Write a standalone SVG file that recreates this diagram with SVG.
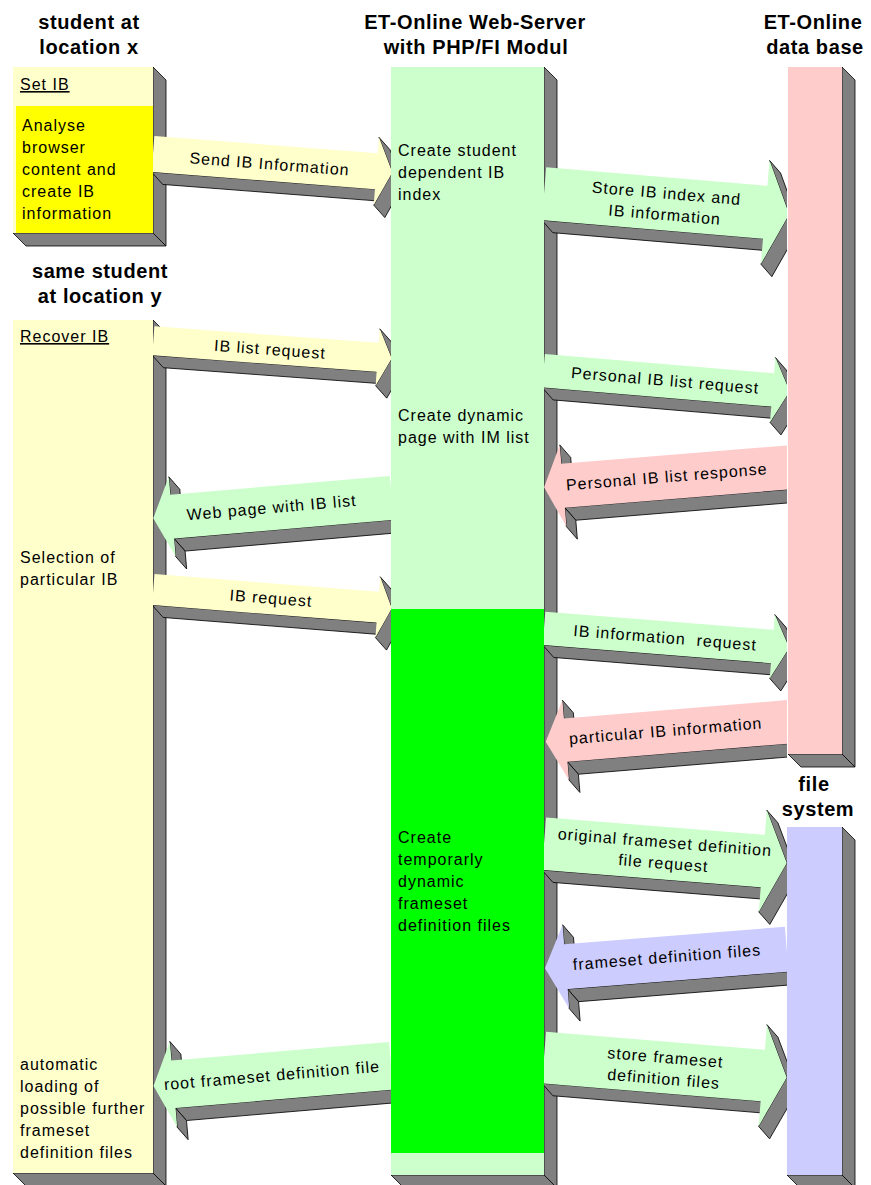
<svg xmlns="http://www.w3.org/2000/svg" width="871" height="1185" viewBox="0 0 871 1185">
<defs>
<style>
.side{fill:#808080;stroke:#000;stroke-width:0.8;stroke-linejoin:round}
.t{font-family:"Liberation Sans",Arial,sans-serif;font-size:16px;letter-spacing:1px;fill:#000}
.m{text-anchor:middle}
.h{font-family:"Liberation Sans",Arial,sans-serif;font-size:20px;font-weight:bold;letter-spacing:0.6px;text-anchor:middle;fill:#000}
.u{text-decoration:underline}
.ly{fill:#ffffcc}.yy{fill:#ffff00}.lg{fill:#ccffcc}.gg{fill:#00ff00}.pk{fill:#ffcccc}.lv{fill:#ccccff}
</style>
<clipPath id="gap">
<rect x="153" y="0" width="238" height="1185"/>
<rect x="544" y="0" width="243" height="1185"/>
</clipPath>
</defs>
<rect width="871" height="1185" fill="#fff"/>

<g id="headers">
<text class="h" x="89" y="29">student at</text>
<text class="h" x="89" y="54">location x</text>
<text class="h" x="475" y="29">ET-Online Web-Server</text>
<text class="h" x="476" y="54">with PHP/FI Modul</text>
<text class="h" x="813" y="29">ET-Online</text>
<text class="h" x="815" y="54">data base</text>
<text class="h" x="100" y="278">same student</text>
<text class="h" x="100" y="303">at location y</text>
<text class="h" x="814" y="791">file</text>
<text class="h" x="818" y="816">system</text>
</g>

<g id="student-x">
<polygon class="side" points="153,67 166,80 166,246 153,233"/>
<polygon class="side" points="13,233 153,233 166,246 26,246"/>
<rect class="ly" x="13" y="67" width="140" height="166"/>
<rect class="yy" x="16" y="106" width="137" height="127"/>
<text class="t u" x="20" y="90">Set IB</text>
<text class="t" x="22" y="131">Analyse</text>
<text class="t" x="22" y="153">browser</text>
<text class="t" x="22" y="175">content and</text>
<text class="t" x="22" y="197">create IB</text>
<text class="t" x="22" y="219">information</text>
</g>

<g id="student-y">
<polygon class="side" points="153,320 166,333 166,1186 153,1173"/>
<polygon class="side" points="13,1173 153,1173 166,1186 26,1186"/>
<rect class="ly" x="13" y="320" width="140" height="853"/>
<text class="t u" x="20" y="342">Recover IB</text>
<text class="t" x="20" y="563">Selection of</text>
<text class="t" x="20" y="585">particular IB</text>
<text class="t" x="20" y="1070">automatic</text>
<text class="t" x="20" y="1092">loading of</text>
<text class="t" x="20" y="1114">possible further</text>
<text class="t" x="20" y="1136">frameset</text>
<text class="t" x="20" y="1158">definition files</text>
</g>

<g id="web-server">
<polygon class="side" points="544,67 557,80 557,1188 544,1175"/>
<polygon class="side" points="391,1175 544,1175 557,1188 404,1188"/>
<rect class="lg" x="391" y="67" width="153" height="1108"/>
<rect class="gg" x="391" y="609" width="153" height="544"/>
<text class="t" x="398" y="156">Create student</text>
<text class="t" x="398" y="178">dependent IB</text>
<text class="t" x="398" y="200">index</text>
<text class="t" x="398" y="421">Create dynamic</text>
<text class="t" x="398" y="443">page with IM list</text>
<text class="t" x="398" y="843">Create</text>
<text class="t" x="398" y="865">temporarly</text>
<text class="t" x="398" y="887">dynamic</text>
<text class="t" x="398" y="909">frameset</text>
<text class="t" x="398" y="931">definition files</text>
</g>

<g id="data-base">
<polygon class="side" points="842,67 855,80 855,767 842,754"/>
<polygon class="side" points="788,754 842,754 855,767 801,767"/>
<rect class="pk" x="788" y="67" width="54" height="687"/>
</g>

<g id="file-system">
<polygon class="side" points="842,827 855,840 855,1188 842,1175"/>
<polygon class="side" points="787,1175 842,1175 855,1188 800,1188"/>
<rect class="lv" x="787" y="827" width="55" height="348"/>
</g>

<g id="connectors" clip-path="url(#gap)">
<g transform="translate(153,154) rotate(4.4)">
<polygon class="side" points="224,18 0,18 12,29.6 236,29.6"/>
<polygon class="side" points="224,-34 240,0 252,11.6 236,-22.4"/>
<polygon class="side" points="240,0 224,34 236,45.6 252,11.6"/>
<polygon class="ly" points="0,-18 224,-18 224,-34 240,0 224,34 224,18 0,18"/>
<text class="t m" x="117" y="6.5">Send IB Information</text>
</g>
<g transform="translate(544,193.7) rotate(4.8)">
<polygon class="side" points="222,26.5 0,26.5 12,38.1 234,38.1"/>
<polygon class="side" points="222,-52 246,0 258,11.6 234,-40.4"/>
<polygon class="side" points="246,0 222,52 234,63.6 258,11.6"/>
<polygon class="lg" points="0,-26.5 222,-26.5 222,-52 246,0 222,52 222,26.5 0,26.5"/>
<text class="t m" x="122" y="-5.2">Store IB index and</text>
<text class="t m" x="122" y="16.3">IB information</text>
</g>
<g transform="translate(153.3,340.8) rotate(4.2)">
<polygon class="side" points="225,14.5 0,14.5 12,26.1 237,26.1"/>
<polygon class="side" points="225,-28.5 239,0 251,11.6 237,-16.9"/>
<polygon class="side" points="239,0 225,28.5 237,40.1 251,11.6"/>
<polygon class="ly" points="0,-14.5 225,-14.5 225,-28.5 239,0 225,28.5 225,14.5 0,14.5"/>
<text class="t m" x="117" y="5.5">IB list request</text>
</g>
<g transform="translate(543.5,370.7) rotate(4.8)">
<polygon class="side" points="230,16.7 0,16.7 12,28.3 242,28.3"/>
<polygon class="side" points="230,-32.5 247,0 259,11.6 242,-20.9"/>
<polygon class="side" points="247,0 230,32.5 242,44.1 259,11.6"/>
<polygon class="lg" points="0,-16.7 230,-16.7 230,-32.5 247,0 230,32.5 230,16.7 0,16.7"/>
<text class="t m" x="122" y="5">Personal IB list request</text>
</g>
<g transform="translate(789.3,467.3) rotate(175.34)">
<polygon class="side" points="0,-22 227,-22 217.1,-35.4 -9.9,-35.4"/>
<polygon class="side" points="227,-22 227,-41 217.1,-54.4 217.1,-35.4"/>
<polygon class="side" points="227,41 227,22 217.1,8.6 217.1,27.6"/>
<polygon class="pk" points="0,-22 227,-22 227,-41 246,0 227,41 227,22 0,22"/>
<text class="t m" transform="translate(123,0) rotate(180)" y="5">Personal IB list response</text>
</g>
<g transform="translate(391.7,497.8) rotate(175.09)">
<polygon class="side" points="0,-22 220.3,-22 210.4,-35.4 -9.9,-35.4"/>
<polygon class="side" points="220.3,-22 220.3,-40 210.4,-53.4 210.4,-35.4"/>
<polygon class="side" points="220.3,40 220.3,22 210.4,8.6 210.4,26.6"/>
<polygon class="lg" points="0,-22 220.3,-22 220.3,-40 239.3,0 220.3,40 220.3,22 0,22"/>
<text class="t m" transform="translate(120.5,0) rotate(180)" y="5">Web page with IB list</text>
</g>
<g transform="translate(153.3,589.5) rotate(4.5)">
<polygon class="side" points="225.2,15.5 0,15.5 12,27.1 237.2,27.1"/>
<polygon class="side" points="225.2,-30.5 239.2,0 251.2,11.6 237.2,-18.9"/>
<polygon class="side" points="239.2,0 225.2,30.5 237.2,42.1 251.2,11.6"/>
<polygon class="ly" points="0,-15.5 225.2,-15.5 225.2,-30.5 239.2,0 225.2,30.5 225.2,15.5 0,15.5"/>
<text class="t m" x="118" y="5">IB request</text>
</g>
<g transform="translate(544,628.3) rotate(4.56)">
<polygon class="side" points="229,16.7 0,16.7 12,28.3 241,28.3"/>
<polygon class="side" points="229,-32 246,0 258,11.6 241,-20.4"/>
<polygon class="side" points="246,0 229,32 241,43.6 258,11.6"/>
<polygon class="lg" points="0,-16.7 229,-16.7 229,-32 246,0 229,32 229,16.7 0,16.7"/>
<text class="t m" x="121.5" y="5.3" style="white-space:pre">IB information  request</text>
</g>
<g transform="translate(789.3,721.7) rotate(175.31)">
<polygon class="side" points="0,-21.7 224.4,-21.7 214.5,-35.1 -9.9,-35.1"/>
<polygon class="side" points="224.4,-21.7 224.4,-40 214.5,-53.4 214.5,-35.1"/>
<polygon class="side" points="224.4,40 224.4,21.7 214.5,8.3 214.5,26.6"/>
<polygon class="pk" points="0,-21.7 224.4,-21.7 224.4,-40 244.4,0 224.4,40 224.4,21.7 0,21.7"/>
<text class="t m" transform="translate(124,0) rotate(180)" y="4.5">particular IB information</text>
</g>
<g transform="translate(544,843.7) rotate(4.54)">
<polygon class="side" points="219.5,26.3 0,26.3 12,37.9 231.5,37.9"/>
<polygon class="side" points="219.5,-51 243.5,0 255.5,11.6 231.5,-39.4"/>
<polygon class="side" points="243.5,0 219.5,51 231.5,62.6 255.5,11.6"/>
<polygon class="lg" points="0,-26.3 219.5,-26.3 219.5,-51 243.5,0 219.5,51 219.5,26.3 0,26.3"/>
<text class="t m" x="120.5" y="-5.5">original frameset definition</text>
<text class="t m" x="120.5" y="15.5">file request</text>
</g>
<g transform="translate(786.7,949.2) rotate(175.48)">
<polygon class="side" points="0,-22.5 221.5,-22.5 211.6,-35.9 -9.9,-35.9"/>
<polygon class="side" points="221.5,-22.5 221.5,-42 211.6,-55.4 211.6,-35.9"/>
<polygon class="side" points="221.5,42 221.5,22.5 211.6,9.1 211.6,28.6"/>
<polygon class="lv" points="0,-22.5 221.5,-22.5 221.5,-42 242.5,0 221.5,42 221.5,22.5 0,22.5"/>
<text class="t m" transform="translate(120,0) rotate(180)" y="4">frameset definition files</text>
</g>
<g transform="translate(544,1057.5) rotate(4.7)">
<polygon class="side" points="219.5,25.8 0,25.8 12,37.4 231.5,37.4"/>
<polygon class="side" points="219.5,-51 243.5,0 255.5,11.6 231.5,-39.4"/>
<polygon class="side" points="243.5,0 219.5,51 231.5,62.6 255.5,11.6"/>
<polygon class="lg" points="0,-25.8 219.5,-25.8 219.5,-51 243.5,0 219.5,51 219.5,25.8 0,25.8"/>
<text class="t m" x="121" y="-4.5">store frameset</text>
<text class="t m" x="121" y="17">definition files</text>
</g>
<g transform="translate(391,1065.8) rotate(175.14)">
<polygon class="side" points="0,-23.8 218.3,-23.8 208.4,-37.2 -9.9,-37.2"/>
<polygon class="side" points="218.3,-23.8 218.3,-43 208.4,-56.4 208.4,-37.2"/>
<polygon class="side" points="218.3,43 218.3,23.8 208.4,10.4 208.4,29.4"/>
<polygon class="lg" points="0,-23.8 218.3,-23.8 218.3,-43 238.3,0 218.3,43 218.3,23.8 0,23.8"/>
<text class="t m" transform="translate(119.5,0) rotate(180)" y="5">root frameset definition file</text>
</g>
</g>
</svg>
